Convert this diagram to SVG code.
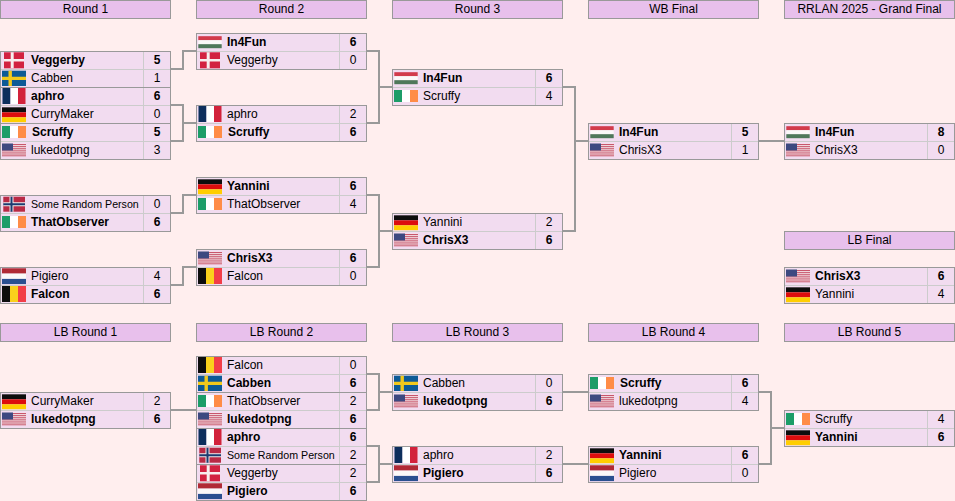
<svg xmlns="http://www.w3.org/2000/svg" width="955" height="501" viewBox="0 0 955 501">
<style>
text{font-family:"Liberation Sans",Arial,sans-serif;font-size:12px;fill:#000}
.h rect{fill:#e8c0ec;stroke:#999}
.h text{text-anchor:middle}
.bx{fill:#f2dcf0;stroke:#999}
.in{fill:none;stroke:#ccc}
.b{font-weight:bold}
.sm{font-size:10.67px}
.s{text-anchor:middle}
use{filter:url(#soft)}
#connectors path{fill:none;stroke:#999;stroke-width:2}
</style>
<defs>
<filter id="soft" x="-10%" y="-10%" width="120%" height="120%"><feGaussianBlur stdDeviation="0.3"/></filter>
<g id="f-dk"><rect x="4" y="1.3" width="20" height="16" fill="#d2203f"/><path d="M10.7 1.3h3v16h-3zM4 8h20v2.6H4z" fill="#f7eeee"/></g>
<g id="f-se"><rect x="2" y="1.7" width="24" height="15.3" fill="#0f5a96"/><path d="M8.5 1.7h3.4v15.3H8.5zM2 7.7h24v3.4H2z" fill="#f2c81e"/></g>
<g id="f-fr"><rect x="2.5" y="1" width="8" height="16" fill="#0d2f5c"/><rect x="10.5" y="1" width="7.5" height="16" fill="#fff"/><rect x="18" y="1" width="7.5" height="16" fill="#d2203a"/></g>
<g id="f-de"><rect x="2" y="2.3" width="24" height="5" fill="#111"/><rect x="2" y="7.3" width="24" height="5" fill="#dd1010"/><rect x="2" y="12.3" width="24" height="4.9" fill="#ffce00"/></g>
<g id="f-ie"><rect x="2" y="3" width="8" height="12" fill="#1f9d68"/><rect x="10" y="3" width="8" height="12" fill="#fff"/><rect x="18" y="3" width="8" height="12" fill="#ff8c46"/></g>
<g id="f-us"><rect x="2" y="2.5" width="24" height="12.7" fill="#f4e6ea"/><path d="M2 3.5h24M2 5.4h24M2 7.3h24M2 9.2h24M2 11.1h24M2 13h24M2 14.8h24" stroke="#c8566c" stroke-width="1"/><rect x="2" y="2.5" width="11" height="7" fill="#3c4a80"/></g>
<g id="f-no"><rect x="3.3" y="1.7" width="21.7" height="15" fill="#b92a45"/><path d="M9.5 1.7h4v15h-4zM3.3 7.2H25v4H3.3z" fill="#eee"/><path d="M10.5 1.7h2v15h-2zM3.3 8.2H25v2H3.3z" fill="#1d3a70"/></g>
<g id="f-nl"><rect x="2" y="1.3" width="24" height="5.3" fill="#b02a36"/><rect x="2" y="6.6" width="24" height="5.3" fill="#fbf8f8"/><rect x="2" y="11.9" width="24" height="5.2" fill="#2c4f90"/></g>
<g id="f-be"><rect x="2" y="1" width="8" height="16" fill="#111"/><rect x="10" y="1" width="8" height="16" fill="#fad01e"/><rect x="18" y="1" width="8" height="16" fill="#f23c46"/></g>
<g id="f-hu"><rect x="2.3" y="3.2" width="23.4" height="4" fill="#d23a4c"/><rect x="2.3" y="7.2" width="23.4" height="4" fill="#fbf8f8"/><rect x="2.3" y="11.2" width="23.4" height="4" fill="#50785a"/></g>
</defs>
<rect width="955" height="501" fill="#ffeeee"/>
<g id="connectors">
<path d="M170 69H183V51H196"/>
<path d="M170 105H183V141H170M183 123H196"/>
<path d="M170 213H183V195H196"/>
<path d="M170 285H183V267H196"/>
<path d="M366 51H379V123H366M379 87H392"/>
<path d="M366 195H379V267H366M379 231H392"/>
<path d="M562 87H575V231H562M575 141H588"/>
<path d="M758 141H784"/>
<path d="M170 410H196"/>
<path d="M366 374H379V410H366M379 392H392"/>
<path d="M366 446H379V482H366M379 464H392"/>
<path d="M562 392H588"/>
<path d="M562 464H588"/>
<path d="M758 392H771V464H758M771 428H784"/>
</g>
<g id="headers" class="h">
<g id="h-r1"><rect x="0.5" y="0.5" width="170" height="18"/><text x="85.5" y="13">Round 1</text></g>
<g id="h-r2"><rect x="196.5" y="0.5" width="170" height="18"/><text x="281.5" y="13">Round 2</text></g>
<g id="h-r3"><rect x="392.5" y="0.5" width="170" height="18"/><text x="477.5" y="13">Round 3</text></g>
<g id="h-wbf"><rect x="588.5" y="0.5" width="170" height="18"/><text x="673.5" y="13">WB Final</text></g>
<g id="h-gf"><rect x="784.5" y="0.5" width="170" height="18"/><text x="869.5" y="13">RRLAN 2025 - Grand Final</text></g>
<g id="h-lbf"><rect x="784.5" y="231.5" width="170" height="18"/><text x="869.5" y="244">LB Final</text></g>
<g id="h-lb1"><rect x="0.5" y="323.5" width="170" height="18"/><text x="85.5" y="336">LB Round 1</text></g>
<g id="h-lb2"><rect x="196.5" y="323.5" width="170" height="18"/><text x="281.5" y="336">LB Round 2</text></g>
<g id="h-lb3"><rect x="392.5" y="323.5" width="170" height="18"/><text x="477.5" y="336">LB Round 3</text></g>
<g id="h-lb4"><rect x="588.5" y="323.5" width="170" height="18"/><text x="673.5" y="336">LB Round 4</text></g>
<g id="h-lb5"><rect x="784.5" y="323.5" width="170" height="18"/><text x="869.5" y="336">LB Round 5</text></g>
</g>
<g id="m-r1-1" transform="translate(0 51)"><rect class="bx" x=".5" y=".5" width="170" height="36"/><path class="in" d="M1 18.5H170M143.5 1V36"/><use href="#f-dk"/><use href="#f-se" y="18"/><text class="b" x="31" y="13">Veggerby</text><text x="31" y="31">Cabben</text><text class="s b" x="157" y="13">5</text><text class="s" x="157" y="31">1</text></g>
<g id="m-r1-2" transform="translate(0 87)"><rect class="bx" x=".5" y=".5" width="170" height="36"/><path class="in" d="M1 18.5H170M143.5 1V36"/><use href="#f-fr"/><use href="#f-de" y="18"/><text class="b" x="31" y="13">aphro</text><text x="31" y="31">CurryMaker</text><text class="s b" x="157" y="13">6</text><text class="s" x="157" y="31">0</text></g>
<g id="m-r1-3" transform="translate(0 123)"><rect class="bx" x=".5" y=".5" width="170" height="36"/><path class="in" d="M1 18.5H170M143.5 1V36"/><use href="#f-ie"/><use href="#f-us" y="18"/><text class="b" x="32" y="13">Scruffy</text><text x="31" y="31">lukedotpng</text><text class="s b" x="157" y="13">5</text><text class="s" x="157" y="31">3</text></g>
<g id="m-r1-4" transform="translate(0 195)"><rect class="bx" x=".5" y=".5" width="170" height="36"/><path class="in" d="M1 18.5H170M143.5 1V36"/><use href="#f-no"/><use href="#f-ie" y="18"/><text class="sm" x="31" y="13">Some Random Person</text><text class="b" x="31" y="31">ThatObserver</text><text class="s" x="157" y="13">0</text><text class="s b" x="157" y="31">6</text></g>
<g id="m-r1-5" transform="translate(0 267)"><rect class="bx" x=".5" y=".5" width="170" height="36"/><path class="in" d="M1 18.5H170M143.5 1V36"/><use href="#f-nl"/><use href="#f-be" y="18"/><text x="31" y="13">Pigiero</text><text class="b" x="31" y="31">Falcon</text><text class="s" x="157" y="13">4</text><text class="s b" x="157" y="31">6</text></g>
<g id="m-r2-1" transform="translate(196 33)"><rect class="bx" x=".5" y=".5" width="170" height="36"/><path class="in" d="M1 18.5H170M143.5 1V36"/><use href="#f-hu"/><use href="#f-dk" y="18"/><text class="b" x="31" y="13">In4Fun</text><text x="31" y="31">Veggerby</text><text class="s b" x="157" y="13">6</text><text class="s" x="157" y="31">0</text></g>
<g id="m-r2-2" transform="translate(196 105)"><rect class="bx" x=".5" y=".5" width="170" height="36"/><path class="in" d="M1 18.5H170M143.5 1V36"/><use href="#f-fr"/><use href="#f-ie" y="18"/><text x="31" y="13">aphro</text><text class="b" x="32" y="31">Scruffy</text><text class="s" x="157" y="13">2</text><text class="s b" x="157" y="31">6</text></g>
<g id="m-r2-3" transform="translate(196 177)"><rect class="bx" x=".5" y=".5" width="170" height="36"/><path class="in" d="M1 18.5H170M143.5 1V36"/><use href="#f-de"/><use href="#f-ie" y="18"/><text class="b" x="31" y="13">Yannini</text><text x="31" y="31">ThatObserver</text><text class="s b" x="157" y="13">6</text><text class="s" x="157" y="31">4</text></g>
<g id="m-r2-4" transform="translate(196 249)"><rect class="bx" x=".5" y=".5" width="170" height="36"/><path class="in" d="M1 18.5H170M143.5 1V36"/><use href="#f-us"/><use href="#f-be" y="18"/><text class="b" x="31" y="13">ChrisX3</text><text x="31" y="31">Falcon</text><text class="s b" x="157" y="13">6</text><text class="s" x="157" y="31">0</text></g>
<g id="m-r3-1" transform="translate(392 69)"><rect class="bx" x=".5" y=".5" width="170" height="36"/><path class="in" d="M1 18.5H170M143.5 1V36"/><use href="#f-hu"/><use href="#f-ie" y="18"/><text class="b" x="31" y="13">In4Fun</text><text x="31" y="31">Scruffy</text><text class="s b" x="157" y="13">6</text><text class="s" x="157" y="31">4</text></g>
<g id="m-r3-2" transform="translate(392 213)"><rect class="bx" x=".5" y=".5" width="170" height="36"/><path class="in" d="M1 18.5H170M143.5 1V36"/><use href="#f-de"/><use href="#f-us" y="18"/><text x="31" y="13">Yannini</text><text class="b" x="31" y="31">ChrisX3</text><text class="s" x="157" y="13">2</text><text class="s b" x="157" y="31">6</text></g>
<g id="m-wbf" transform="translate(588 123)"><rect class="bx" x=".5" y=".5" width="170" height="36"/><path class="in" d="M1 18.5H170M143.5 1V36"/><use href="#f-hu"/><use href="#f-us" y="18"/><text class="b" x="31" y="13">In4Fun</text><text x="31" y="31">ChrisX3</text><text class="s b" x="157" y="13">5</text><text class="s" x="157" y="31">1</text></g>
<g id="m-gf" transform="translate(784 123)"><rect class="bx" x=".5" y=".5" width="170" height="36"/><path class="in" d="M1 18.5H170M143.5 1V36"/><use href="#f-hu"/><use href="#f-us" y="18"/><text class="b" x="31" y="13">In4Fun</text><text x="31" y="31">ChrisX3</text><text class="s b" x="157" y="13">8</text><text class="s" x="157" y="31">0</text></g>
<g id="m-lbf" transform="translate(784 267)"><rect class="bx" x=".5" y=".5" width="170" height="36"/><path class="in" d="M1 18.5H170M143.5 1V36"/><use href="#f-us"/><use href="#f-de" y="18"/><text class="b" x="31" y="13">ChrisX3</text><text x="31" y="31">Yannini</text><text class="s b" x="157" y="13">6</text><text class="s" x="157" y="31">4</text></g>
<g id="m-lb1" transform="translate(0 392)"><rect class="bx" x=".5" y=".5" width="170" height="36"/><path class="in" d="M1 18.5H170M143.5 1V36"/><use href="#f-de"/><use href="#f-us" y="18"/><text x="31" y="13">CurryMaker</text><text class="b" x="31" y="31">lukedotpng</text><text class="s" x="157" y="13">2</text><text class="s b" x="157" y="31">6</text></g>
<g id="m-lb2-1" transform="translate(196 356)"><rect class="bx" x=".5" y=".5" width="170" height="36"/><path class="in" d="M1 18.5H170M143.5 1V36"/><use href="#f-be"/><use href="#f-se" y="18"/><text x="31" y="13">Falcon</text><text class="b" x="31" y="31">Cabben</text><text class="s" x="157" y="13">0</text><text class="s b" x="157" y="31">6</text></g>
<g id="m-lb2-2" transform="translate(196 392)"><rect class="bx" x=".5" y=".5" width="170" height="36"/><path class="in" d="M1 18.5H170M143.5 1V36"/><use href="#f-ie"/><use href="#f-us" y="18"/><text x="31" y="13">ThatObserver</text><text class="b" x="31" y="31">lukedotpng</text><text class="s" x="157" y="13">2</text><text class="s b" x="157" y="31">6</text></g>
<g id="m-lb2-3" transform="translate(196 428)"><rect class="bx" x=".5" y=".5" width="170" height="36"/><path class="in" d="M1 18.5H170M143.5 1V36"/><use href="#f-fr"/><use href="#f-no" y="18"/><text class="b" x="31" y="13">aphro</text><text class="sm" x="31" y="31">Some Random Person</text><text class="s b" x="157" y="13">6</text><text class="s" x="157" y="31">2</text></g>
<g id="m-lb2-4" transform="translate(196 464)"><rect class="bx" x=".5" y=".5" width="170" height="36"/><path class="in" d="M1 18.5H170M143.5 1V36"/><use href="#f-dk"/><use href="#f-nl" y="18"/><text x="31" y="13">Veggerby</text><text class="b" x="31" y="31">Pigiero</text><text class="s" x="157" y="13">2</text><text class="s b" x="157" y="31">6</text></g>
<g id="m-lb3-1" transform="translate(392 374)"><rect class="bx" x=".5" y=".5" width="170" height="36"/><path class="in" d="M1 18.5H170M143.5 1V36"/><use href="#f-se"/><use href="#f-us" y="18"/><text x="31" y="13">Cabben</text><text class="b" x="31" y="31">lukedotpng</text><text class="s" x="157" y="13">0</text><text class="s b" x="157" y="31">6</text></g>
<g id="m-lb3-2" transform="translate(392 446)"><rect class="bx" x=".5" y=".5" width="170" height="36"/><path class="in" d="M1 18.5H170M143.5 1V36"/><use href="#f-fr"/><use href="#f-nl" y="18"/><text x="31" y="13">aphro</text><text class="b" x="31" y="31">Pigiero</text><text class="s" x="157" y="13">2</text><text class="s b" x="157" y="31">6</text></g>
<g id="m-lb4-1" transform="translate(588 374)"><rect class="bx" x=".5" y=".5" width="170" height="36"/><path class="in" d="M1 18.5H170M143.5 1V36"/><use href="#f-ie"/><use href="#f-us" y="18"/><text class="b" x="32" y="13">Scruffy</text><text x="31" y="31">lukedotpng</text><text class="s b" x="157" y="13">6</text><text class="s" x="157" y="31">4</text></g>
<g id="m-lb4-2" transform="translate(588 446)"><rect class="bx" x=".5" y=".5" width="170" height="36"/><path class="in" d="M1 18.5H170M143.5 1V36"/><use href="#f-de"/><use href="#f-nl" y="18"/><text class="b" x="31" y="13">Yannini</text><text x="31" y="31">Pigiero</text><text class="s b" x="157" y="13">6</text><text class="s" x="157" y="31">0</text></g>
<g id="m-lb5" transform="translate(784 410)"><rect class="bx" x=".5" y=".5" width="170" height="36"/><path class="in" d="M1 18.5H170M143.5 1V36"/><use href="#f-ie"/><use href="#f-de" y="18"/><text x="31" y="13">Scruffy</text><text class="b" x="31" y="31">Yannini</text><text class="s" x="157" y="13">4</text><text class="s b" x="157" y="31">6</text></g>
</svg>
